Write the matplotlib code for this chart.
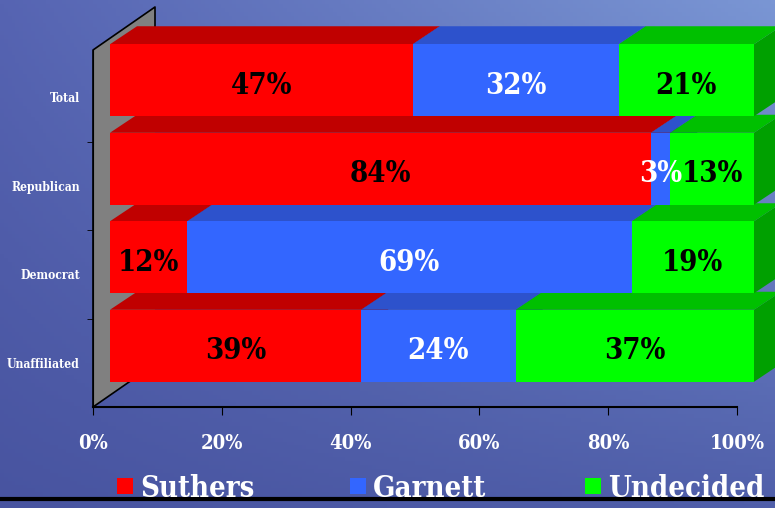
import matplotlib.pyplot as plt
import numpy as np
from matplotlib.patches import Polygon, Rectangle

# data
categories = ['Total', 'Republican', 'Democrat', 'Unaffiliated']
series = ['Suthers', 'Garnett', 'Undecided']
suthers = [47, 84, 12, 39]
garnett = [32, 3, 69, 24]
undecided = [21, 13, 19, 37]
xticks = [0, 20, 40, 60, 80, 100]

front_cols = ['#ff0000', '#3366ff', '#00ff00']
top_cols = ['#c00000', '#2d52cc', '#00c000']
side_cols = ['#a00000', '#2747b0', '#00a000']
text_cols = ['black', 'white', 'black']

W, H = 775, 508
fig = plt.figure(figsize=(W / 100, H / 100), dpi=100)

# background gradient
bg = fig.add_axes([0, 0, 1, 1])
bg.set_axis_off()
gx = np.linspace(0, 1, 200)[None, :, None]
gy = np.linspace(0, 1, 130)[:, None, None]
tl = np.array([86, 100, 178]) / 255
tr = np.array([122, 150, 212]) / 255
bl = np.array([72, 84, 160]) / 255
br = np.array([80, 95, 170]) / 255
img = (1 - gy) * ((1 - gx) * tl + gx * tr) + gy * ((1 - gx) * bl + gx * br)
bg.imshow(img, aspect='auto', extent=[0, 1, 0, 1], zorder=0)
bg.set_xlim(0, 1); bg.set_ylim(0, 1)

# main axes (axis plane), px -> data scale
x0px, x1px, ybase, ytop = 93, 737, 407, 50
ax = fig.add_axes([x0px / W, (H - ybase) / H, (x1px - x0px) / W, (ybase - ytop) / H])
ax.patch.set_alpha(0)
ppx = 100 / (x1px - x0px)      # data per px in x
ppy = 1 / 88.5                 # data per px in y
ax.set_xlim(0, 100)
ax.set_ylim(-0.5, -0.5 + (ybase - ytop) * ppy)

serif = dict(family='DejaVu Serif', weight='bold', stretch='condensed')

# side wall
wdx, wdy = 62 * ppx, 43 * ppy
y_lo, y_hi = -0.5, ax.get_ylim()[1]
ax.add_patch(Polygon([(0, y_lo), (0, y_hi), (wdx, y_hi + wdy), (wdx, y_lo + wdy)],
                     closed=True, facecolor='#808080', edgecolor='none', clip_on=False, zorder=1))
ax.plot([0, 0, wdx, wdx], [y_lo, y_hi, y_hi + wdy, y_hi + wdy - 20 * ppy],
        color='black', lw=1.2, clip_on=False, zorder=1.5)
ax.plot([0, wdx], [y_lo, y_lo + wdy], color='black', lw=1.2, clip_on=False, zorder=1.5)

# 3d bars
fx, fy = 17 * ppx, 17 * ppy       # front face offset
tdx, tdy = 27 * ppx, 18 * ppy     # bar depth
bh = 72 * ppy
vals = np.array([suthers, garnett, undecided])
ypos = [3, 2, 1, 0]
z = 2
for i in [3, 2, 1, 0]:
    left = 0
    for s in range(3):
        w = vals[s][i]
        xa = left + fx
        ya = ypos[i] + fy - bh / 2
        side = [(xa + w, ya), (xa + w + tdx, ya + tdy), (xa + w + tdx, ya + bh + tdy), (xa + w, ya + bh)]
        top = [(xa, ya + bh), (xa + tdx, ya + bh + tdy), (xa + w + tdx, ya + bh + tdy), (xa + w, ya + bh)]
        ax.add_patch(Polygon(side, closed=True, facecolor=side_cols[s], edgecolor='none', clip_on=False, zorder=z))
        ax.add_patch(Polygon(top, closed=True, facecolor=top_cols[s], edgecolor='none', clip_on=False, zorder=z + 0.1))
        ax.add_patch(Rectangle((xa, ya), w, bh, facecolor=front_cols[s], edgecolor='none', clip_on=False, zorder=z + 0.2))
        ax.text(xa + w / 2, ya + bh / 2 - 5 * ppy, f'{w}%', ha='center', va='center', color=text_cols[s],
                fontsize=21, zorder=20, **serif)
        left += w
        z += 1

# axes styling
for sp in ['top', 'right']:
    ax.spines[sp].set_visible(False)
ax.spines['left'].set_color('black')
ax.spines['bottom'].set_color('black')
ax.spines['bottom'].set_linewidth(1.5)
ax.spines['left'].set_zorder(1.6)
ax.set_xticks(xticks)
ax.set_xticklabels([f'{t}%' for t in xticks], color='white', fontsize=14.5, **serif)
ax.tick_params(axis='x', length=6, color='black', pad=13)
ax.set_yticks(ypos)
ax.set_yticklabels(categories, color='white', fontsize=8.7, **serif)
ax.tick_params(axis='y', length=0, pad=9.5)
ax.set_yticks([0.5, 1.5, 2.5], minor=True)
ax.tick_params(axis='y', which='minor', length=4, color='black')

# legend
leg_items = [(117, 'Suthers'), (350, 'Garnett'), (585, 'Undecided')]
for (lx, name), c in zip(leg_items, front_cols):
    fig.add_artist(Rectangle((lx / W, (H - 494) / H), 16 / W, 16 / H, facecolor=c,
                             edgecolor='none', transform=fig.transFigure))
    fig.text((lx + 23) / W, (H - 497) / H, name, color='white', fontsize=21, ha='left',
             va='baseline', **serif)

# bottom rule
fig.add_artist(plt.Line2D([0, 1], [(H - 499) / H] * 2, color='black', lw=3, transform=fig.transFigure))

fig.savefig('out.png', dpi=100)
